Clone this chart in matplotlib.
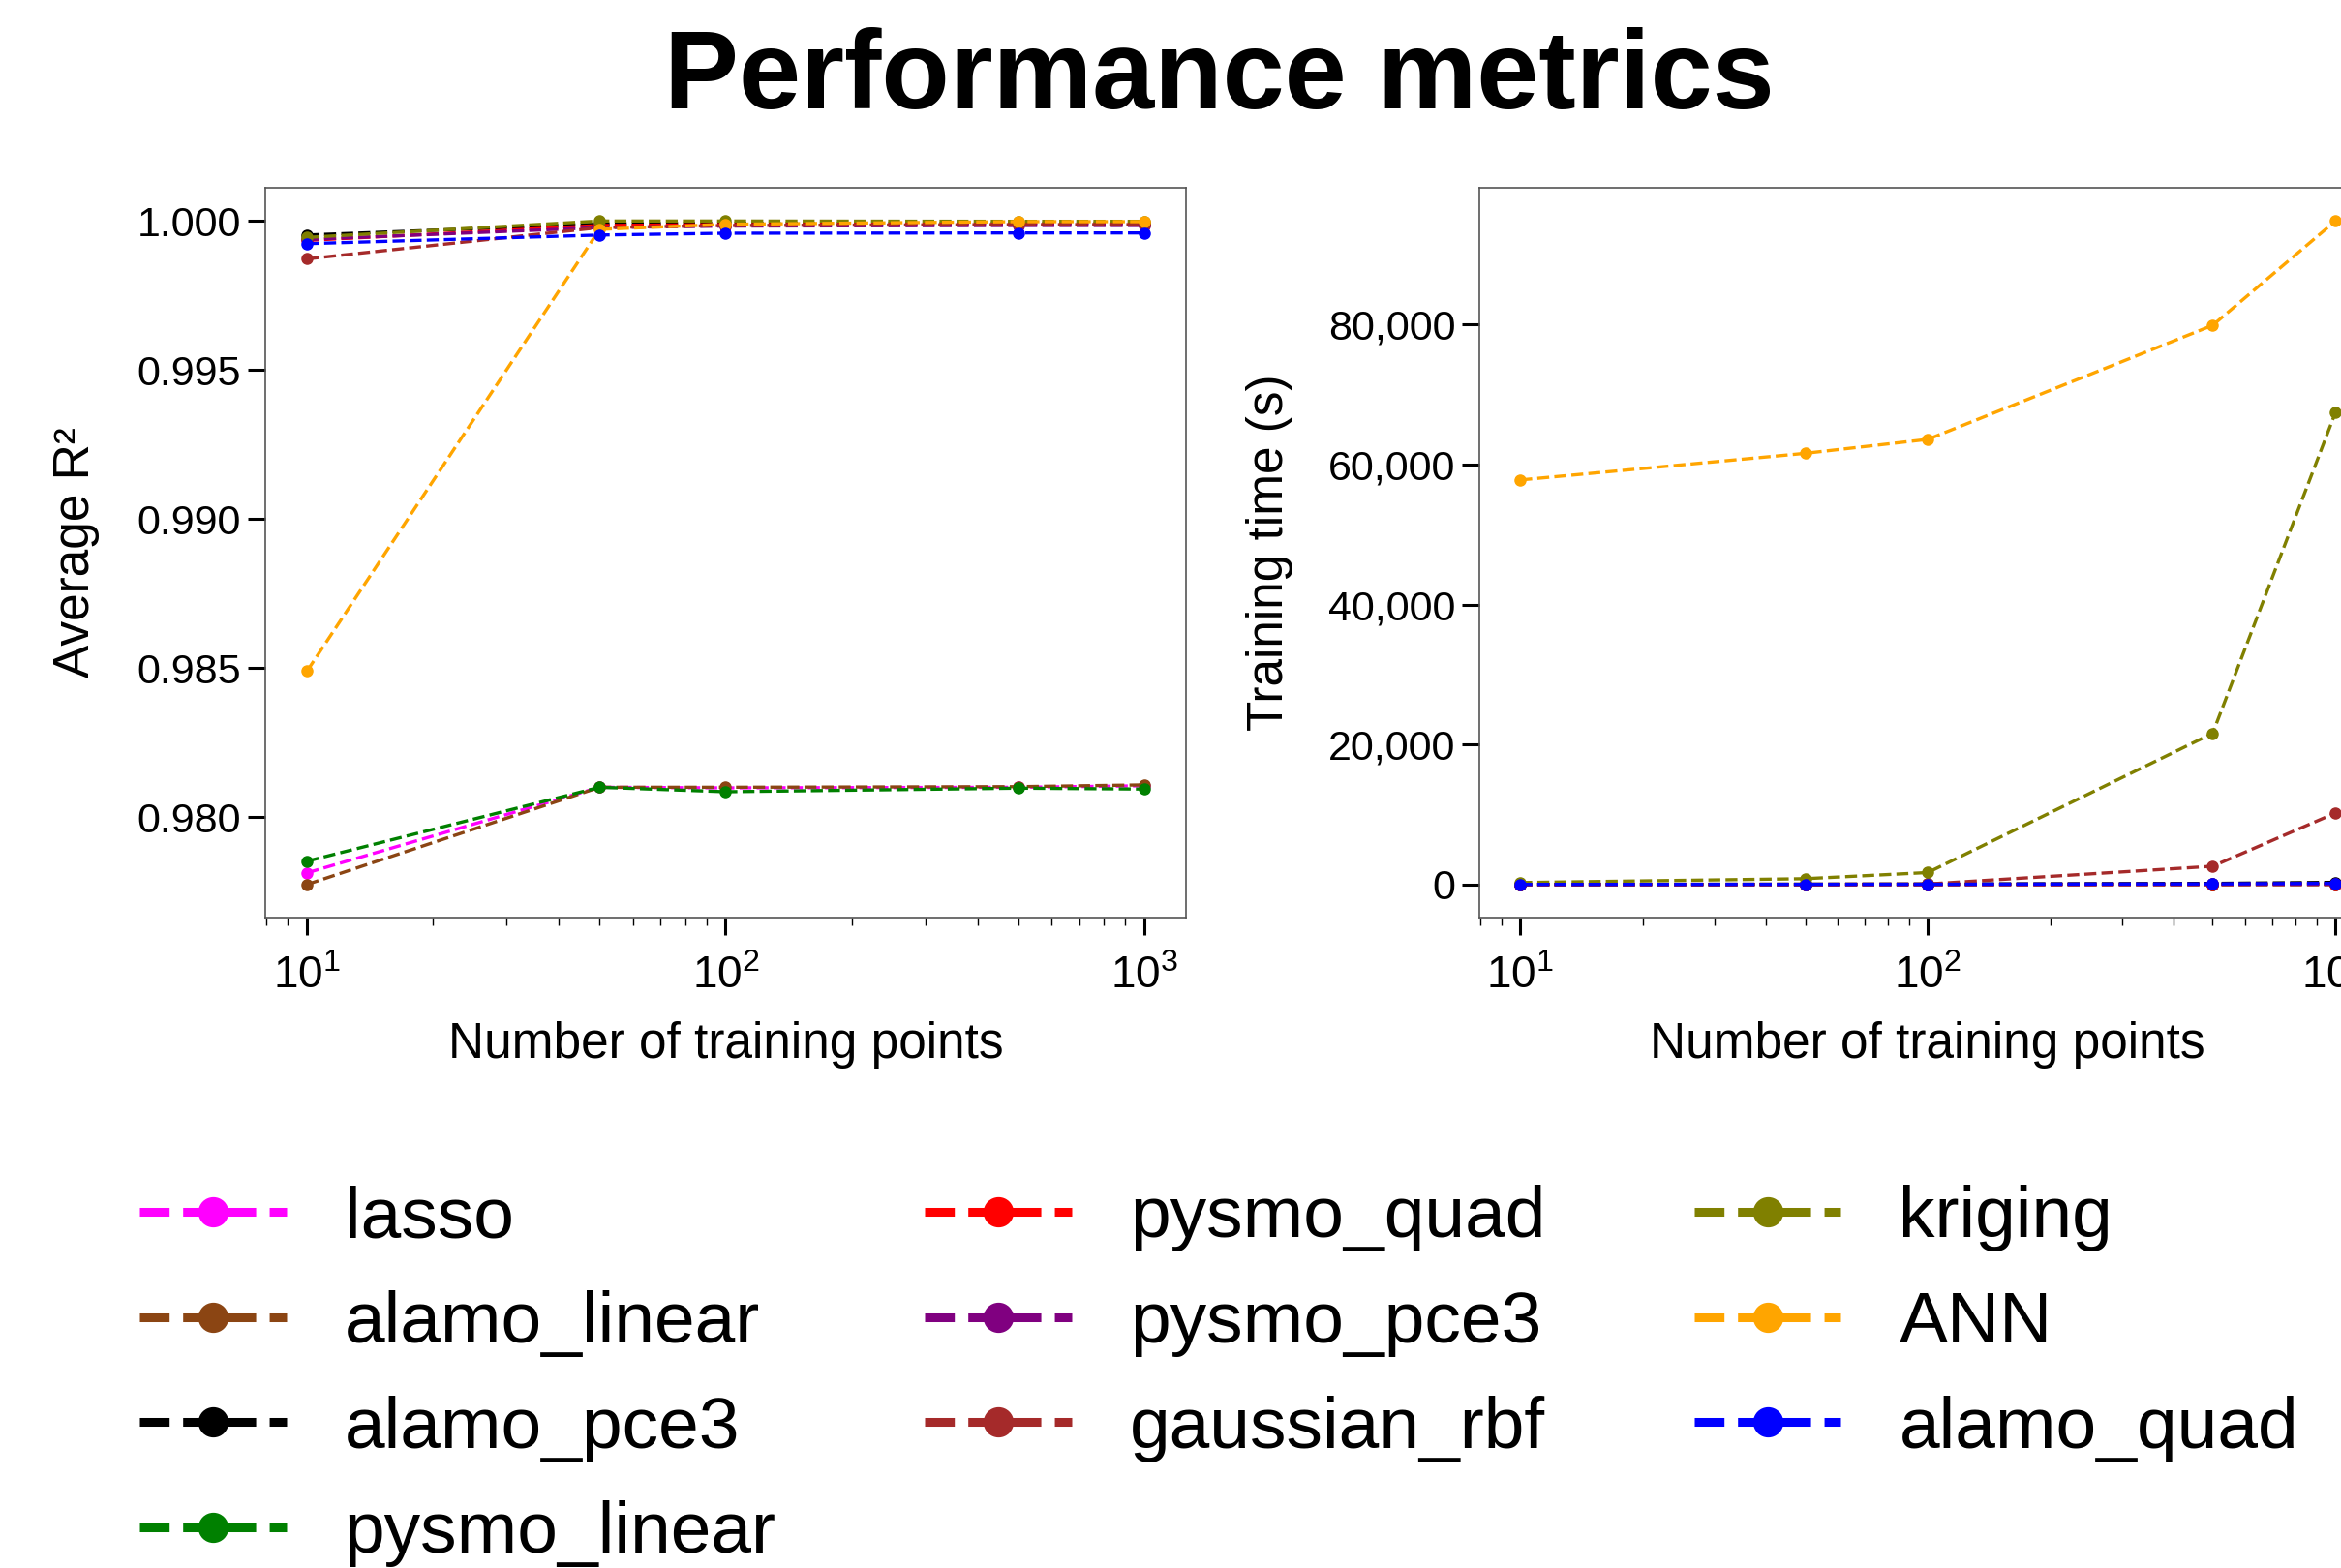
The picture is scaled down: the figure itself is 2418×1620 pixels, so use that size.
import matplotlib
matplotlib.use("Agg")
import matplotlib.pyplot as plt
from matplotlib.ticker import MultipleLocator, FuncFormatter

plt.rcParams['font.family'] = ['Liberation Sans', 'DejaVu Sans']

# training set sizes
n_points = [10, 50, 100, 500, 1000]

models = ["lasso", "alamo_linear", "alamo_pce3", "pysmo_linear", "pysmo_quad",
          "pysmo_pce3", "gaussian_rbf", "kriging", "ANN", "alamo_quad"]
colors = ["magenta", "#8B4513", "black", "green", "red",
          "purple", "brown", "olive", "orange", "blue"]

# average R2 for each model
r2_lasso = [0.97813, 0.98100, 0.98098, 0.98100, 0.98105]
r2_alamo_linear = [0.97774, 0.98100, 0.98100, 0.98102, 0.98108]
r2_alamo_pce3 = [0.99953, 0.99990, 0.99992, 0.99993, 0.99993]
r2_pysmo_linear = [0.97852, 0.98100, 0.98085, 0.98097, 0.98094]
r2_pysmo_quad = [0.99935, 0.99985, 0.99988, 0.99990, 0.99990]
r2_pysmo_pce3 = [0.99938, 0.99978, 0.99983, 0.99985, 0.99985]
r2_gaussian_rbf = [0.99873, 0.99978, 0.99985, 0.99988, 0.99988]
r2_kriging = [0.99945, 1.00000, 1.00000, 0.99999, 0.99999]
r2_ann = [0.98490, 0.99972, 0.99989, 0.99998, 0.99998]
r2_alamo_quad = [0.99924, 0.99953, 0.99959, 0.99960, 0.99960]

# training time (s)
t_lasso = [1, 1, 2, 5, 10]
t_alamo_linear = [5, 8, 10, 20, 40]
t_alamo_pce3 = [20, 40, 60, 150, 300]
t_pysmo_linear = [1, 1, 1, 2, 3]
t_pysmo_quad = [2, 3, 5, 10, 20]
t_pysmo_pce3 = [5, 10, 15, 40, 80]
t_gaussian_rbf = [10, 30, 60, 2600, 10200]
t_kriging = [270, 820, 1700, 21600, 67400]
t_ann = [57800, 61600, 63600, 79900, 94800]
t_alamo_quad = [10, 20, 30, 80, 160]

r2_all = [r2_lasso, r2_alamo_linear, r2_alamo_pce3, r2_pysmo_linear, r2_pysmo_quad,
          r2_pysmo_pce3, r2_gaussian_rbf, r2_kriging, r2_ann, r2_alamo_quad]
t_all = [t_lasso, t_alamo_linear, t_alamo_pce3, t_pysmo_linear, t_pysmo_quad,
         t_pysmo_pce3, t_gaussian_rbf, t_kriging, t_ann, t_alamo_quad]

fig = plt.figure(figsize=(24.18, 16.2), dpi=100)
ax1 = fig.add_axes([0.1133, 0.4148, 0.3933, 0.4654])
ax2 = fig.add_axes([0.6320, 0.4148, 0.3830, 0.4654])

for name, col, r2, tt in zip(models, colors, r2_all, t_all):
    ax1.plot(n_points, r2, "--o", color=col, lw=2.4, ms=8, label=name)
    ax2.plot(n_points, tt, "--o", color=col, lw=2.4, ms=8, label=name)

for ax in (ax1, ax2):
    ax.set_xscale("log")
    ax.set_xlabel("Number of training points", fontsize=37)
    ax.xaxis.set_label_coords(0.5, -0.142)
    ax.tick_params(which="major", length=13, width=2.2, labelsize=31, pad=5)
    ax.tick_params(axis="x", which="major", labelsize=33, pad=15)
    ax.tick_params(which="minor", length=6, width=1.0)
    for sp in ax.spines.values():
        sp.set_color("#555555")
        sp.set_linewidth(1.2)

ax1.yaxis.set_major_locator(MultipleLocator(0.005))
ax1.yaxis.set_major_formatter(FuncFormatter(lambda v, p: f"{v:.3f}"))
ax1.set_ylabel("Average R²", fontsize=37)
ax1.yaxis.set_label_coords(-0.18, 0.5)

ax2.yaxis.set_major_locator(MultipleLocator(20000))
ax2.yaxis.set_major_formatter(FuncFormatter(lambda v, p: f"{v:,.0f}"))
ax2.set_ylabel("Training time (s)", fontsize=37)
ax2.yaxis.set_label_coords(-0.208, 0.5)

fig.text(0.5207, 0.9309, "Performance metrics", fontsize=83, fontweight="bold",
         ha="center", va="baseline")

handles, labels = ax1.get_legend_handles_labels()
leg = fig.legend(handles, labels, ncol=3, loc="upper left",
                 bbox_to_anchor=(0.0596, 0.2444), frameon=False, fontsize=54,
                 handlelength=2.02, handletextpad=0.8, columnspacing=2.05,
                 labelspacing=0.53, borderpad=0, borderaxespad=0)
for h in leg.legend_handles:
    h.set_linewidth(6.5)
    h.set_markersize(21.5)
    h.set_linestyle((0, (3.4, 1.55)))

fig.savefig("out.png", dpi=100)
